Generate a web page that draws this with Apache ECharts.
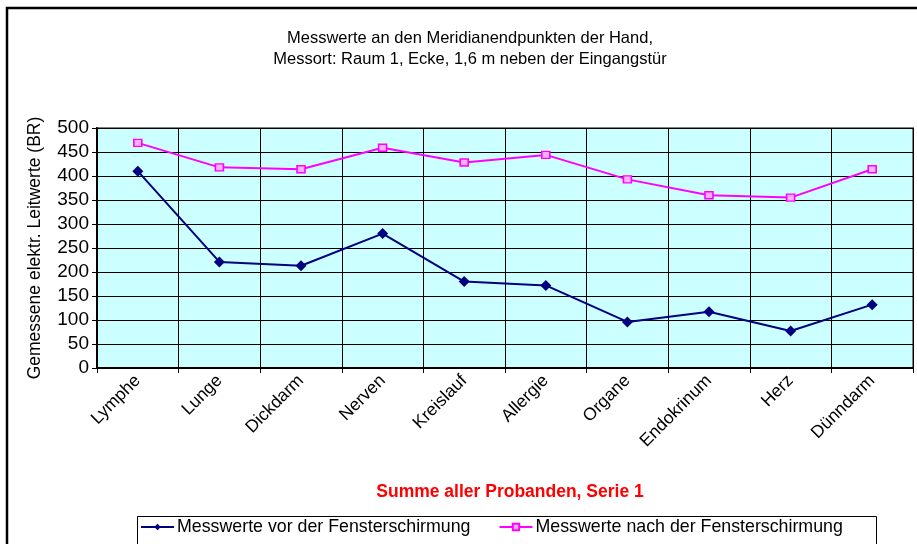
<!DOCTYPE html>
<html><head><meta charset="utf-8">
<script src="https://cdn.jsdelivr.net/npm/echarts@6/dist/echarts.min.js"></script>
<style>html,body{margin:0;padding:0;background:#fff}#c{width:917px;height:544px}</style>
</head><body><div id="c"></div>
<script>
var categories = ['Lymphe','Lunge','Dickdarm','Nerven','Kreislauf','Allergie','Organe','Endokrinum','Herz','Dünndarm'];
var vorValues = [410, 221, 213, 280, 180, 172, 96, 117, 77, 132];
var nachValues = [469, 418, 414, 459, 428, 444, 393, 360, 355, 414];
var seriesNames = ['Messwerte vor der Fensterschirmung', 'Messwerte nach der Fensterschirmung'];
var titleText = 'Messwerte an den Meridianendpunkten der Hand,\nMessort: Raum 1, Ecke, 1,6 m neben der Eingangstür';
var subText = 'Summe aller Probanden, Serie 1';
var yAxisName = 'Gemessene elektr. Leitwerte (BR)';

var FONT = '"Liberation Sans", Arial, sans-serif';
var chart = echarts.init(document.getElementById('c'), null, {renderer: 'canvas'});
chart.setOption({
  animation: false,
  backgroundColor: '#fff',
  textStyle: {fontFamily: FONT},
  graphic: [
    {type: 'rect', shape: {x: 7, y: 8, width: 1000, height: 1000}, style: {fill: 'none', stroke: '#000', lineWidth: 2.5}, z: 100},
    {type: 'rect', shape: {x: 137.5, y: 516.5, width: 739, height: 60}, style: {fill: '#fff', stroke: '#000', lineWidth: 1}, z: 0}
  ],
  title: [
    {text: titleText, left: 465, textAlign: 'center', top: 23,
     textStyle: {fontFamily: FONT, fontSize: 16.5, fontWeight: 'normal', color: '#000', lineHeight: 21}},
    {text: subText, left: 505, textAlign: 'center', top: 478,
     textStyle: {fontFamily: FONT, fontSize: 17.5, fontWeight: 'bold', color: '#FF0000'}}
  ],
  legend: {
    left: 140, top: 518, padding: 0, itemGap: 28, itemWidth: 33, itemHeight: 8,
    textStyle: {fontFamily: FONT, fontSize: 17.8, color: '#000', padding: [0, 0, 0, -2]},
    data: seriesNames
  },
  grid: {left: 97, right: 4, top: 128, bottom: 176, show: true, backgroundColor: '#CCFFFF', borderColor: '#808080', borderWidth: 2},
  xAxis: {
    type: 'category', data: categories, boundaryGap: true,
    axisLine: {lineStyle: {color: '#000', width: 2}},
    axisTick: {show: true, length: 5, lineStyle: {color: '#000', width: 1}},
    splitLine: {show: true, lineStyle: {color: '#000', width: 1}},
    axisLabel: {rotate: 45, fontFamily: FONT, fontSize: 17.5, color: '#000', margin: 10, interval: 0}
  },
  yAxis: {
    type: 'value', min: 0, max: 500, interval: 50,
    name: yAxisName, nameLocation: 'middle', nameRotate: 90, nameGap: 53,
    nameTextStyle: {fontFamily: FONT, fontSize: 17.5, color: '#000'},
    axisLine: {show: true, lineStyle: {color: '#000', width: 2}},
    axisTick: {show: true, length: 5, lineStyle: {color: '#000', width: 1}},
    splitLine: {show: true, lineStyle: {color: '#000', width: 1}},
    axisLabel: {fontFamily: FONT, fontSize: 19, color: '#000', margin: 8}
  },
  series: [
    {name: seriesNames[0], type: 'line', data: vorValues, symbol: 'diamond', symbolSize: 11,
     lineStyle: {color: '#000080', width: 2}, itemStyle: {color: '#000080'}, z: 3},
    {name: seriesNames[1], type: 'line', data: nachValues, symbol: 'rect', symbolSize: [8, 7],
     lineStyle: {color: '#FF00FF', width: 2}, itemStyle: {color: '#FFB0FF', borderColor: '#FF00FF', borderWidth: 1.5}, z: 3}
  ]
});
</script></body></html>
